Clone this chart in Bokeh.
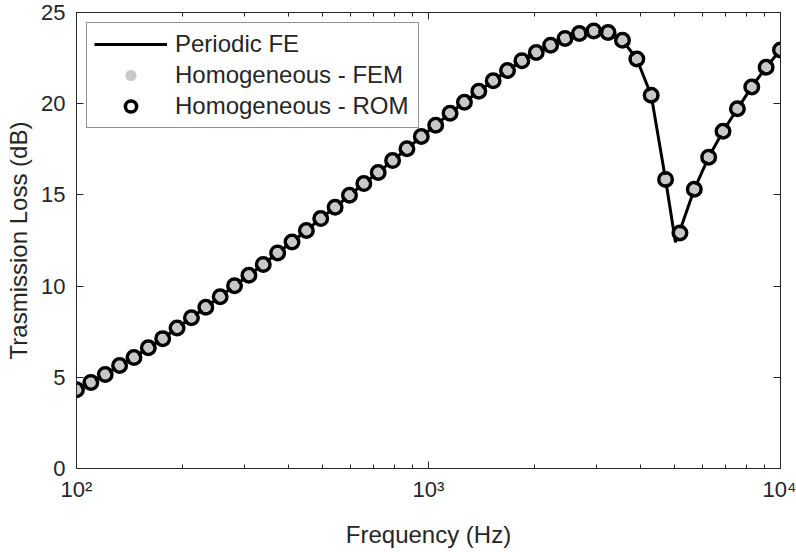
from bokeh.plotting import figure
from bokeh.models import FixedTicker, LogAxis, LinearAxis, Legend, LegendItem, Range1d
from bokeh.embed import file_html
from bokeh.resources import INLINE

# ---- data ----
freq = [100.00, 109.85, 120.68, 132.57, 145.63, 159.98, 175.75, 193.07, 212.10, 232.99,
        255.95, 281.17, 308.88, 339.32, 372.76, 409.49, 449.84, 494.17, 542.87, 596.36,
        655.13, 719.69, 790.60, 868.51, 954.09, 1048.11, 1151.40, 1264.86, 1389.50, 1526.42,
        1676.83, 1842.07, 2023.59, 2222.99, 2442.05, 2682.70, 2947.05, 3237.46, 3556.48, 3906.94,
        4291.93, 4714.87, 5179.47, 5689.87, 6250.55, 6866.49, 7543.12, 8286.43, 9102.98, 10000.0]

homog_tl = [4.32, 4.72, 5.15, 5.65, 6.09, 6.62, 7.12, 7.70, 8.26, 8.84,
            9.42, 10.02, 10.59, 11.19, 11.82, 12.42, 13.05, 13.70, 14.32, 14.98,
            15.62, 16.23, 16.88, 17.53, 18.20, 18.82, 19.48, 20.08, 20.68, 21.26,
            21.82, 22.36, 22.81, 23.21, 23.58, 23.85, 23.99, 23.90, 23.48, 22.45,
            20.46, 15.85, 12.91, 15.31, 17.07, 18.49, 19.72, 20.92, 22.00, 22.94]

fe_freq = [100.00, 109.85, 120.68, 132.57, 145.63, 159.98, 175.75, 193.07, 212.10, 232.99,
           255.95, 281.17, 308.88, 339.32, 372.76, 409.49, 449.84, 494.17, 542.87, 596.36,
           655.13, 719.69, 790.60, 868.51, 954.09, 1048.11, 1151.40, 1264.86, 1389.50, 1526.42,
           1676.83, 1842.07, 2023.59, 2222.99, 2442.05, 2682.70, 2947.05, 3237.46, 3556.48, 3906.94,
           4291.93, 4714.87, 5030.0, 5179.47, 5689.87, 6250.55, 6866.49, 7543.12, 8286.43, 9102.98, 10000.0]
fe_tl = [4.32, 4.72, 5.15, 5.65, 6.09, 6.62, 7.12, 7.70, 8.26, 8.84,
         9.42, 10.02, 10.59, 11.19, 11.82, 12.42, 13.05, 13.70, 14.32, 14.98,
         15.62, 16.23, 16.88, 17.53, 18.20, 18.82, 19.48, 20.08, 20.68, 21.26,
         21.82, 22.36, 22.81, 23.21, 23.58, 23.85, 23.99, 23.90, 23.48, 22.45,
         20.46, 15.85, 12.40, 13.05, 15.31, 17.07, 18.49, 19.72, 20.92, 22.00, 22.94]

x_major = [100, 1000, 10000]
x_minor = [200, 300, 400, 500, 600, 700, 800, 900,
           2000, 3000, 4000, 5000, 6000, 7000, 8000, 9000]
x_labels = {100: "10\u00b2", 1000: "10\u00b3", 10000: "10\u2074"}
y_ticks = [0, 5, 10, 15, 20, 25]

FONT = "Liberation Sans"
AX = "#262626"

p = figure(width=796, height=552, x_axis_type="log",
           x_range=Range1d(100, 10000), y_range=Range1d(0, 25),
           output_backend="svg", toolbar_location=None,
           min_border_left=76, min_border_right=16, min_border_top=12, min_border_bottom=84,
           background_fill_color="white", border_fill_color="white")
p.grid.visible = False
p.outline_line_color = AX
p.outline_line_width = 1

line_r = p.line(fe_freq, fe_tl, line_color="black", line_width=3)
fem_r = p.scatter(freq, homog_tl, marker="circle", size=9.5, fill_color="#c8c8c8", line_color=None)
rom_r = p.scatter(freq, homog_tl, marker="circle", size=13.5, fill_color=None,
                  line_color="black", line_width=3.5)

def style_axis(ax):
    ax.axis_line_color = AX
    ax.major_tick_line_color = AX
    ax.minor_tick_line_color = AX
    ax.major_tick_in = 7
    ax.major_tick_out = 0
    ax.minor_tick_in = 4
    ax.minor_tick_out = 0
    ax.major_label_text_font = FONT
    ax.major_label_text_color = AX
    ax.axis_label_text_font = FONT
    ax.axis_label_text_color = AX
    ax.axis_label_text_font_style = "normal"

# bottom axis
xa = p.xaxis[0]
xa.ticker = FixedTicker(ticks=x_major, minor_ticks=x_minor)
xa.major_label_overrides = x_labels
style_axis(xa)
xa.major_label_text_font_size = "22px"
xa.major_label_standoff = 8
xa.axis_label = "Frequency (Hz)"
xa.axis_label_text_font_size = "24px"
xa.axis_label_standoff = 16

# left axis
ya = p.yaxis[0]
ya.ticker = FixedTicker(ticks=y_ticks)
style_axis(ya)
ya.minor_tick_line_color = None
ya.major_label_text_font_size = "22px"
ya.major_label_standoff = 11
ya.axis_label = "Trasmission Loss (dB)"
ya.axis_label_text_font_size = "24px"
ya.axis_label_standoff = 6

# top and right axes (ticks only, labels hidden)
top = LogAxis(ticker=FixedTicker(ticks=x_major, minor_ticks=x_minor))
style_axis(top)
top.major_label_text_font_size = "1px"
top.major_label_text_alpha = 0
top.major_label_standoff = 0
p.add_layout(top, "above")

right = LinearAxis(ticker=FixedTicker(ticks=y_ticks))
style_axis(right)
right.minor_tick_line_color = None
right.major_label_text_font_size = "1px"
right.major_label_text_alpha = 0
right.major_label_standoff = 0
p.add_layout(right, "right")

legend = Legend(items=[LegendItem(label="Periodic FE", renderers=[line_r]),
                       LegendItem(label="Homogeneous - FEM", renderers=[fem_r]),
                       LegendItem(label="Homogeneous - ROM", renderers=[rom_r])],
                location="top_left", margin=10, padding=7, spacing=3,
                glyph_width=73, glyph_height=28, label_height=28, label_width=236,
                label_standoff=8, label_text_font=FONT, label_text_font_size="24px",
                label_text_color=AX, border_line_color=AX, border_line_width=1,
                background_fill_color="white", background_fill_alpha=1.0)
p.add_layout(legend)

open("out.html", "w").write(file_html(p, INLINE))
